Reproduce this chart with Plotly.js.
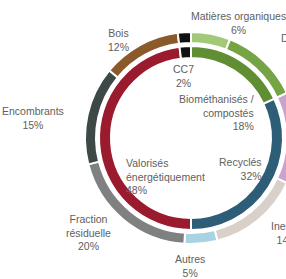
<!DOCTYPE html>
<html>
<head>
<meta charset="utf-8">
<script src="https://cdn.plot.ly/plotly-3.0.1.min.js"></script>
<style>
html,body{margin:0;padding:0;overflow:hidden;background:#fff;width:286px;height:279px;}
#chart{width:400px;height:279px;}
</style>
</head>
<body>
<div id="chart"></div>
<script>
// ---- data ----
const outerLabels = ["Matières organiques", "Déchets verts", "Autres collectes", "Inertes", "Autres", "Fraction résiduelle", "Encombrants", "Bois", "CC7"];
const outerValues = [6, 12, 14, 14, 5, 20, 15, 12, 2];
const outerColors = ["#a2c978", "#74a444", "#c9a3d0", "#d8d0c9", "#a9d2e2", "#7f8080", "#3c4947", "#8a5a2a", "#111111"];

const innerLabels = ["Biométhanisés / compostés", "Recyclés", "Valorisés énergétiquement", "CC7"];
const innerValues = [18, 32, 48, 2];
const innerColors = ["#5f8f32", "#2e5d78", "#9a1a2e", "#111111"];

// ---- layout geometry (pixels) ----
const W = 400, H = 279;
const cx = 191, cy = 138;
const rOuter = 106, rOuterHole = 95;
const rInner = 92, rInnerHole = 80;

function dom(r) {
  return {
    x: [(cx - r) / W, (cx + r) / W],
    y: [(H - cy - r) / H, (H - cy + r) / H]
  };
}

const traces = [
  {
    type: "pie", labels: outerLabels, values: outerValues,
    marker: {colors: outerColors, line: {color: "#ffffff", width: 2}},
    hole: rOuterHole / rOuter, domain: dom(rOuter),
    sort: false, direction: "clockwise", rotation: 0,
    textinfo: "none", hoverinfo: "none", showlegend: false
  },
  {
    type: "pie", labels: innerLabels, values: innerValues,
    marker: {colors: innerColors, line: {color: "#ffffff", width: 2}},
    hole: rInnerHole / rInner, domain: dom(rInner),
    sort: false, direction: "clockwise", rotation: 0,
    textinfo: "none", hoverinfo: "none", showlegend: false
  }
];

// line breaks for labels (where a label is wrapped)
const outerBreaks = [null, null, null, null, null, " ", null, null, null];
const innerBreaks = ["/ ", null, " ", null];

function lab(labels, values, breaks, i) {
  let name = labels[i];
  const b = breaks[i];
  if (b) name = name.split(b).join(b.trim() ? b.trim() + "<br>" : "<br>");
  return name + "<br>" + values[i] + "%";
}

// text positions in pixels: [x, y, xanchor]
const outerTextPos = [
  [238, 23, "center"],
  [313, 45, "center"],
  null,
  [287, 233, "center"],
  [190, 266, "center"],
  [88, 232, "center"],
  [33, 118, "center"],
  [118, 40, "center"],
  null
];
const innerTextPos = [
  [256, 113, "right"],
  [264, 169, "right"],
  [124, 176, "left"],
  [183, 76, "center"]
];

const annotations = [];
function addAnn(p, t) {
  annotations.push({x: p[0] / W, y: 1 - p[1] / H, xref: "paper", yref: "paper", text: t,
    showarrow: false, xanchor: p[2], yanchor: "middle", align: p[2]});
}
outerTextPos.forEach((p, i) => { if (p) addAnn(p, lab(outerLabels, outerValues, outerBreaks, i)); });
innerTextPos.forEach((p, i) => { if (p) addAnn(p, lab(innerLabels, innerValues, innerBreaks, i)); });

const layout = {
  width: W, height: H,
  margin: {l: 0, r: 0, t: 0, b: 0, pad: 0},
  paper_bgcolor: "#ffffff",
  font: {family: "Liberation Sans, Arial, sans-serif", size: 10.5, color: "#606060"},
  annotations: annotations,
  showlegend: false
};

Plotly.newPlot("chart", traces, layout, {displayModeBar: false, staticPlot: true});
</script>
</body>
</html>
